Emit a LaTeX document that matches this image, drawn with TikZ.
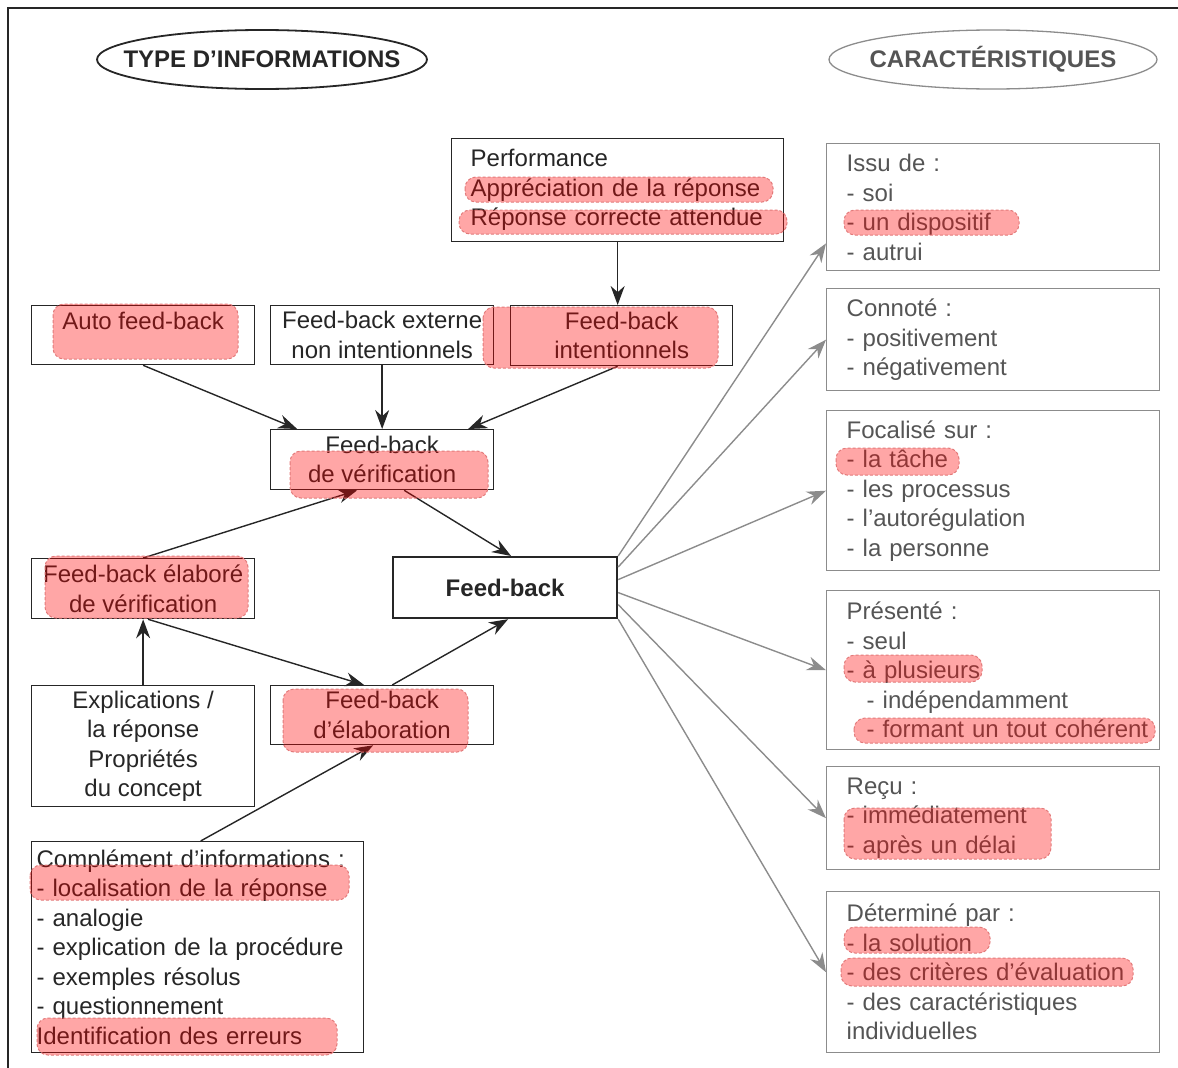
\documentclass[tikz,border=0pt]{standalone}
\usepackage{fontspec}
\setmainfont{Liberation Sans}
\usepackage{tikz}
\usetikzlibrary{arrows.meta}

\definecolor{texte}{HTML}{262626}
\definecolor{gristexte}{HTML}{555555}
\definecolor{grisbord}{HTML}{8C8C8C}
\definecolor{bordmarque}{HTML}{E27A7A}
\newcommand{\policebase}{\fontsize{24}{29.5}\selectfont}

\begin{document}
\begin{tikzpicture}[x=1pt, y=-1pt, >={Stealth[length=19pt, width=14pt]},
		every node/.style={font=\policebase, text=texte, inner sep=0pt},
		boite/.style={draw=texte, line width=1.3pt, align=center, anchor=north west},
		boitecar/.style={draw=grisbord, line width=1.4pt, text=gristexte, align=left,
			anchor=north west, text width=293pt, inner xsep=20pt, minimum height=#1},
		fleche/.style={->, line width=1.4pt, draw=texte},
		flechecar/.style={->, line width=1.4pt, draw=grisbord},
		marque/.style={draw=bordmarque, dash pattern=on 3pt off 2pt, line width=1pt,
			fill=red, fill opacity=0.35, rounded corners=11pt}]
	\useasboundingbox (0,0) rectangle (1178,1068);
	
	% cadre
	\draw[line width=1.3pt, texte] (8,1068) -- (8,8) -- (1178,8);
	
	% ---------- titres ----------
	\node[font=\policebase\bfseries] (typeinfo) at (262,59.5) {TYPE D’INFORMATIONS};
	\draw[texte, line width=1.8pt] (typeinfo.center) ellipse [x radius=165pt, y radius=29.5pt];
	\node[font=\policebase\bfseries, text=gristexte] (caract) at (993,59.5) {CARACTÉRISTIQUES};
	\draw[grisbord, line width=1.3pt] (caract.center) ellipse [x radius=164pt, y radius=29.5pt];
	
	% ---------- type d'informations ----------
	\node[boite, align=left, text width=294pt, inner xsep=19pt, minimum height=103pt] (perf) at (451,138)
		{Performance\\Appréciation de la réponse\\Réponse correcte attendue};
	\node[boite, minimum width=223pt, minimum height=59pt] (auto) at (31,305) {Auto feed-back\\\mbox{}};
	\node[boite, minimum width=223pt, minimum height=59pt] (externe) at (270,305) {Feed-back externe\\non intentionnels};
	\node[boite, minimum width=222pt, minimum height=60pt] (intent) at (510,305) {Feed-back\\intentionnels};
	\node[boite, minimum width=223pt, minimum height=60pt] (verif) at (270,429) {Feed-back\\de vérification};
	\node[boite, line width=2.2pt, minimum width=224pt, minimum height=61pt, font=\policebase\bfseries] (fb) at (392,556) {Feed-back};
	\node[boite, minimum width=223pt, minimum height=60pt] (elabore) at (31,558) {Feed-back élaboré\\de vérification};
	\node[boite, minimum width=223pt, minimum height=121pt] (expl) at (31,685) {Explications /\\la réponse\\Propriétés\\du concept};
	\node[boite, minimum width=223pt, minimum height=59pt] (elab) at (270,685) {Feed-back\\d’élaboration};
	\node[boite, align=left, text width=322pt, inner xsep=5pt, minimum height=211pt] (compl) at (31,841)
		{Complément d’informations :\\- localisation de la réponse\\- analogie\\- explication de la procédure\\- exemples résolus\\- questionnement\\Identification des erreurs};
	
	% liens entre types
	\draw[fleche] (perf.south) -- (perf.south |- intent.north);
	\draw[fleche] (auto.south) -- ([xshift=-85pt]verif.north);
	\draw[fleche] (externe.south) -- (verif.north);
	\draw[fleche] ([xshift=-4pt]intent.south) -- ([xshift=86pt]verif.north);
	\draw[fleche] (elabore.north) -- ([xshift=-25pt]verif.south);
	\draw[fleche] ([xshift=22pt]verif.south) -- ([xshift=6pt]fb.north);
	\draw[fleche] (expl.north) -- (elabore.south);
	\draw[fleche] ([xshift=5pt]elabore.south) -- ([xshift=-18pt]elab.north);
	\draw[fleche] ([xshift=10pt]elab.north) -- ([xshift=3pt]fb.south);
	\draw[fleche] ([xshift=3pt]compl.north) -- ([xshift=-9pt]elab.south);
	
	% ---------- caractéristiques ----------
	\node[boitecar=127pt] (issu) at (826,143) {Issu de :\\- soi\\- un dispositif\\- autrui};
	\node[boitecar=102pt] (connote) at (826,288) {Connoté :\\- positivement\\- négativement};
	\node[boitecar=160pt] (focal) at (826,410) {Focalisé sur :\\- la tâche\\- les processus\\- l’autorégulation\\- la personne};
	\node[boitecar=159pt] (pres) at (826,590)
		{Présenté :\\- seul\\- à plusieurs\\\hspace*{20pt}- indépendamment\\\mbox{\hspace*{20pt}- formant un tout cohérent}};
	\node[boitecar=103pt] (recu) at (826,766) {Reçu :\\- immédiatement\\- après un délai};
	\node[boitecar=161pt] (deter) at (826,891)
		{Déterminé par :\\- la solution\\- des critères d’évaluation\\- des caractéristiques\\individuelles};
	
	% liens vers les caractéristiques
	\draw[flechecar] (fb.north east) -- ([yshift=28pt]issu.south west);
	\draw[flechecar] ([yshift=-11pt]fb.north east) -- (connote.west);
	\draw[flechecar] ([yshift=8pt]fb.east) -- (focal.west);
	\draw[flechecar] ([yshift=-5pt]fb.east) -- (pres.west);
	\draw[flechecar] ([yshift=-17pt]fb.east) -- (recu.west);
	\draw[flechecar] (fb.south east) -- (deter.west);
	
	% ---------- surlignages ----------
	\draw[marque] (465,177) rectangle (773,202);
	\draw[marque] (459,210) rectangle (787,234);
	\draw[marque] (53,304) rectangle (238,359);
	\draw[marque] (483,307) rectangle (718,368);
	\draw[marque] (290,451) rectangle (488,498);
	\draw[marque] (45,556) rectangle (248,618);
	\draw[marque] (283,689) rectangle (468,752);
	\draw[marque] (30,865) rectangle (349,900);
	\draw[marque] (37,1018) rectangle (337,1055);
	\draw[marque] (844,210) rectangle (1019,235);
	\draw[marque] (836,448) rectangle (959,475);
	\draw[marque] (844,655) rectangle (982,682);
	\draw[marque] (854,718) rectangle (1155,743);
	\draw[marque] (844,808) rectangle (1051,859);
	\draw[marque] (844,927) rectangle (990,953);
	\draw[marque] (841,958) rectangle (1133,986);
\end{tikzpicture}
\end{document}
